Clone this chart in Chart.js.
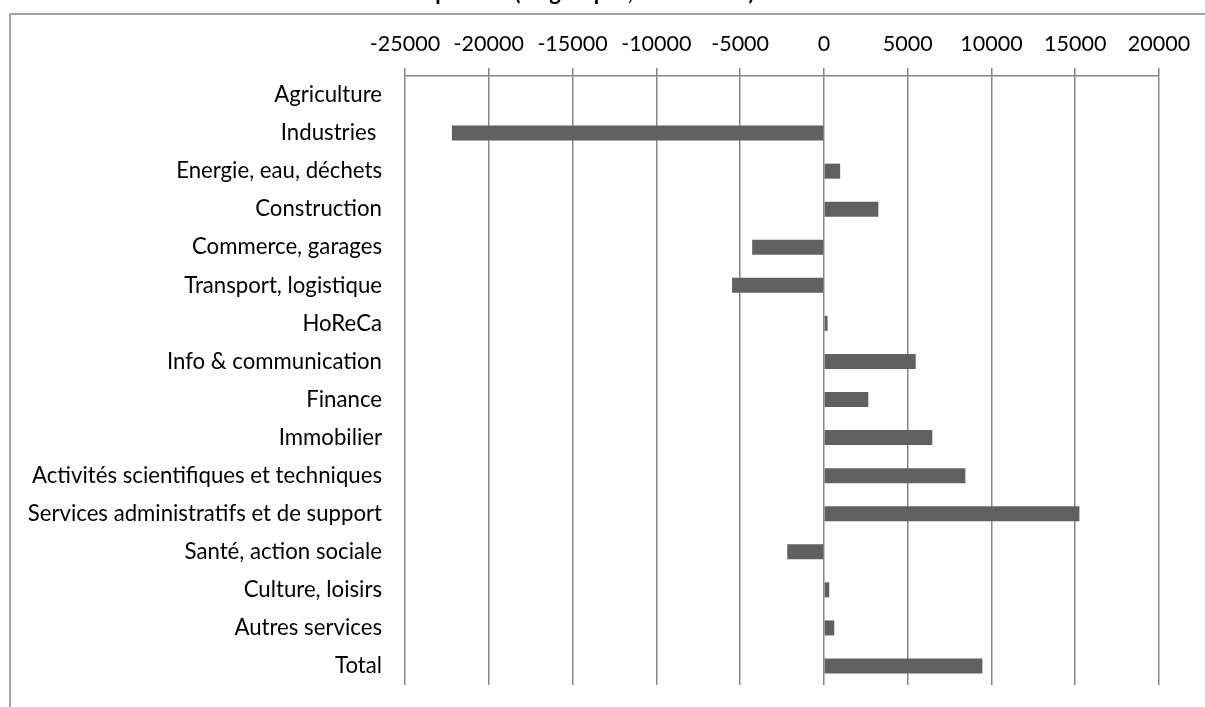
<!DOCTYPE html>
<html lang="fr">
<head>
<meta charset="utf-8">
<title>Emploi net par secteur</title>
<script src="https://cdn.jsdelivr.net/npm/chart.js@4/dist/chart.umd.min.js"></script>
<style>
  html, body { margin: 0; padding: 0; background: #fff; overflow: hidden; }
  #wrap { position: absolute; left: 0; top: -30px; width: 1205px; height: 737px; }
</style>
</head>
<body>
<div id="wrap"><canvas id="chart"></canvas></div>
<script>
// Secteurs d'activité
const categories = [
  'Agriculture',
  'Industries ',
  'Energie, eau, déchets',
  'Construction',
  'Commerce, garages',
  'Transport, logistique',
  'HoReCa',
  'Info & communication',
  'Finance',
  'Immobilier',
  'Activités scientifiques et techniques',
  'Services administratifs et de support',
  'Santé, action sociale',
  'Culture, loisirs',
  'Autres services',
  'Total'
];

// Variation de l'emploi par secteur
const values = [
  0, -22200, 970, 3250, -4280, -5480, 220, 5480,
  2650, 6470, 8440, 15250, -2190, 320, 620, 9460
];

// Graduations de l'axe horizontal
const xTicks = [-25000, -20000, -15000, -10000, -5000, 0, 5000, 10000, 15000, 20000];

const titleText = 'Emploi net (en groupes, 2008-2013)';

const GRID = '#868686';
const FONT = 'Lato, "Liberation Sans", sans-serif';

// Cadre gris autour de la zone du graphique
const framePlugin = {
  id: 'frame',
  beforeDraw(chart) {
    const { ctx, width, height } = chart;
    ctx.save();
    ctx.fillStyle = '#fff';
    ctx.fillRect(0, 0, width, height);
    ctx.strokeStyle = GRID;
    ctx.lineWidth = 1.5;
    ctx.beginPath();
    ctx.moveTo(10, height + 5);
    ctx.lineTo(10, 44);
    ctx.lineTo(width + 5, 44);
    ctx.stroke();
    ctx.restore();
  }
};

new Chart(document.getElementById('chart'), {
  type: 'bar',
  data: {
    labels: categories,
    datasets: [{
      data: values,
      backgroundColor: '#606060',
      borderWidth: 0,
      categoryPercentage: 1,
      barPercentage: 0.395
    }]
  },
  options: {
    indexAxis: 'y',
    responsive: true,
    maintainAspectRatio: false,
    animation: false,
    layout: { padding: { top: 0, left: 0, right: 46, bottom: 22 } },
    plugins: {
      legend: { display: false },
      tooltip: { enabled: false },
      title: {
        display: true,
        text: titleText,
        color: '#000',
        font: { family: FONT, size: 22, weight: 'bold', lineHeight: 1.2 },
        padding: { top: 9.3, bottom: 0 }
      }
    },
    scales: {
      x: {
        position: 'top',
        min: xTicks[0],
        max: xTicks[xTicks.length - 1],
        afterBuildTicks(scale) {
          scale.ticks = xTicks.map(v => ({ value: v }));
        },
        afterFit(scale) { scale.height = 70.3; },
        ticks: {
          autoSkip: false,
          maxRotation: 0,
          padding: 10.8,
          color: '#000',
          font: { family: FONT, size: 21.5, lineHeight: 1.2 },
          callback: v => String(v)
        },
        grid: {
          color: GRID,
          lineWidth: 1.5,
          tickLength: 8,
          drawTicks: true,
          drawOnChartArea: true
        },
        border: { display: true, color: GRID, width: 1.5 }
      },
      y: {
        afterFit(scale) {
          scale.width = 405;
          scale.paddingTop = 0;
          scale.paddingBottom = 0;
        },
        ticks: {
          autoSkip: false,
          padding: 23,
          color: '#000',
          font: { family: FONT, size: 22.2, lineHeight: 1.2 }
        },
        grid: { display: false, drawTicks: false },
        border: { display: false }
      }
    }
  },
  plugins: [framePlugin]
});
</script>
</body>
</html>
